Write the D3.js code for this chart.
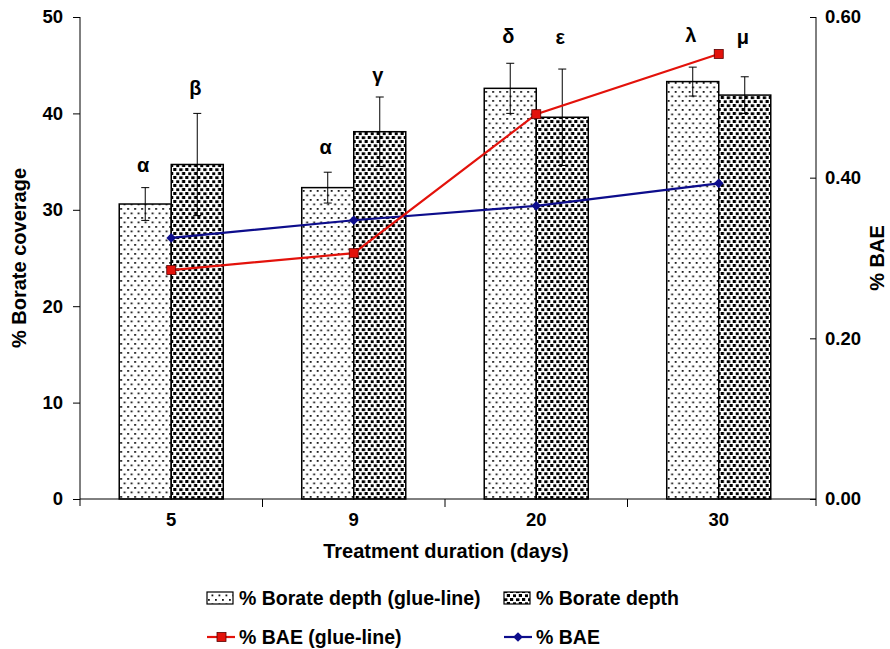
<!DOCTYPE html>
<html>
<head>
<meta charset="utf-8">
<script src="https://cdn.jsdelivr.net/npm/d3@7"></script>
<style>
  body { margin: 0; background: #fff; }
  svg { font-family: "Liberation Sans", Arial, sans-serif; font-weight: bold; }
</style>
</head>
<body>
<div class="chart"></div>
<script>
// data
const days = ["5", "9", "20", "30"];
const glueDepth = [30.6, 32.3, 42.6, 43.3];      // % Borate depth (glue-line)
const glueDepthErr = [1.7, 1.6, 2.6, 1.5];
const depth = [34.7, 38.1, 39.6, 41.9];          // % Borate depth
const depthErr = [5.3, 3.6, 5.0, 1.9];
const baeGlue = [0.285, 0.306, 0.479, 0.554];    // % BAE (glue-line)
const bae = [0.325, 0.347, 0.365, 0.393];        // % BAE
const glueLetters = ["α", "α", "δ", "λ"];
const depthLetters = ["β", "γ", "ε", "μ"];
const glueLetterAt = [34.6, 36.5, 48.0, 48.1];   // letter heights in % coverage units
const depthLetterAt = [42.6, 44.0, 47.9, 47.9];
const leftTicks = [0, 10, 20, 30, 40, 50];
const rightTicks = [0, 0.2, 0.4, 0.6];

const width = 890;
const height = 649;
const plotLeft = 80, plotRight = 816, plotTop = 17, plotBottom = 499;

const svg = d3.select(".chart").append("svg")
  .attr("width", width)
  .attr("height", height);

const defs = svg.append("defs");

// light dotted fill
const dots = defs.append("pattern")
  .attr("id", "dots")
  .attr("patternUnits", "userSpaceOnUse")
  .attr("width", 7).attr("height", 9);
dots.append("rect").attr("width", 7).attr("height", 9).attr("fill", "#fff");
dots.append("rect").attr("x", 1).attr("y", 1).attr("width", 1.8).attr("height", 1.8).attr("fill", "#111");
dots.append("rect").attr("x", 4.5).attr("y", 5.5).attr("width", 1.8).attr("height", 1.8).attr("fill", "#111");

// dense speckled fill
const dense = defs.append("pattern")
  .attr("id", "dense")
  .attr("patternUnits", "userSpaceOnUse")
  .attr("width", 12).attr("height", 8);
dense.append("rect").attr("width", 12).attr("height", 8).attr("fill", "#fff");
[[0, 0.3, 3.4, 2.8], [6, 0, 3.2, 3], [2.8, 4, 3.2, 3], [9, 4.3, 3.2, 2.8]].forEach((r) => {
  dense.append("rect").attr("x", r[0]).attr("y", r[1]).attr("width", r[2]).attr("height", r[3]).attr("fill", "#000");
});

const x = d3.scaleBand()
  .domain(days)
  .range([plotLeft, 810])
  .paddingInner(0.43)
  .paddingOuter(0.215);

const xSub = d3.scaleBand()
  .domain(["glue", "depth"])
  .range([0, x.bandwidth()]);

const y = d3.scaleLinear().domain([0, 50]).range([plotBottom, plotTop]);
const y2 = d3.scaleLinear().domain([0, 0.6]).range([plotBottom, plotTop]);

const groups = days.map((d, i) => ({
  day: d,
  bars: [
    { key: "glue", v: glueDepth[i], e: glueDepthErr[i], letter: glueLetters[i], at: glueLetterAt[i] },
    { key: "depth", v: depth[i], e: depthErr[i], letter: depthLetters[i], at: depthLetterAt[i] }
  ]
}));

const g = svg.selectAll(".group")
  .data(groups)
  .enter()
  .append("g")
  .attr("class", "group")
  .attr("transform", (d) => `translate(${x(d.day)},0)`);

g.selectAll("rect")
  .data((d) => d.bars)
  .enter()
  .append("rect")
  .attr("x", (d) => xSub(d.key))
  .attr("y", (d) => y(d.v))
  .attr("width", xSub.bandwidth())
  .attr("height", (d) => y(0) - y(d.v))
  .attr("fill", (d) => (d.key === "glue" ? "url(#dots)" : "url(#dense)"))
  .attr("stroke", "#000")
  .attr("stroke-width", 1.5);

// error bars
const err = g.selectAll(".err")
  .data((d) => d.bars)
  .enter()
  .append("g")
  .attr("class", "err")
  .attr("transform", (d) => `translate(${xSub(d.key) + xSub.bandwidth() / 2},0)`);
err.append("line")
  .attr("y1", (d) => y(d.v - d.e)).attr("y2", (d) => y(d.v + d.e))
  .attr("stroke", "#000").attr("stroke-width", 1);
err.append("line")
  .attr("x1", -4).attr("x2", 4)
  .attr("y1", (d) => y(d.v + d.e)).attr("y2", (d) => y(d.v + d.e))
  .attr("stroke", "#000").attr("stroke-width", 1);
err.append("line")
  .attr("x1", -4).attr("x2", 4)
  .attr("y1", (d) => y(d.v - d.e)).attr("y2", (d) => y(d.v - d.e))
  .attr("stroke", "#000").attr("stroke-width", 1);

// greek letters
g.selectAll(".letter")
  .data((d) => d.bars)
  .enter()
  .append("text")
  .attr("class", "letter")
  .attr("x", (d) => xSub(d.key) + xSub.bandwidth() / 2 - 2)
  .attr("y", (d) => y(d.at))
  .attr("dy", "0.35em")
  .attr("text-anchor", "middle")
  .attr("font-size", 20)
  .text((d) => d.letter);

// axes
const styleAxis = (sel) => {
  sel.select(".domain").remove();
  sel.selectAll(".tick line").attr("stroke", "#000");
  sel.selectAll(".tick text").attr("font-size", 18.5).attr("font-weight", "bold").attr("fill", "#000")
    .attr("font-family", "Liberation Sans, Arial, sans-serif");
};

svg.append("g")
  .attr("transform", `translate(${plotLeft},0)`)
  .call(d3.axisLeft(y).tickValues(leftTicks).tickSize(7).tickPadding(10))
  .call(styleAxis);

svg.append("g")
  .attr("transform", `translate(${plotRight},0)`)
  .call(d3.axisRight(y2).tickValues(rightTicks).tickSize(0).tickPadding(9).tickFormat(d3.format(".2f")))
  .call(styleAxis)
  .call((s) => s.selectAll(".tick").append("line").attr("x1", -6).attr("x2", 0).attr("stroke", "#000"));

svg.append("g")
  .attr("transform", `translate(0,${plotBottom})`)
  .call(d3.axisBottom(x).tickSize(0).tickPadding(14))
  .call(styleAxis);

// category separators on x axis
svg.append("g")
  .selectAll("line")
  .data(days.slice(1))
  .enter()
  .append("line")
  .attr("x1", (d) => x(d) - x.step() * x.paddingInner() / 2)
  .attr("x2", (d) => x(d) - x.step() * x.paddingInner() / 2)
  .attr("y1", plotBottom).attr("y2", plotBottom + 8)
  .attr("stroke", "#000");

svg.append("line").attr("x1", plotLeft).attr("x2", plotLeft).attr("y1", plotTop).attr("y2", plotBottom + 7).attr("stroke", "#000");
svg.append("line").attr("x1", plotRight).attr("x2", plotRight).attr("y1", plotTop).attr("y2", plotBottom + 7).attr("stroke", "#000");
svg.append("line").attr("x1", plotLeft).attr("x2", plotRight).attr("y1", plotBottom).attr("y2", plotBottom).attr("stroke", "#000");

// lines
const lineX = (d, i) => x(days[i]) + x.bandwidth() / 2;
const line = d3.line().x(lineX).y((d) => y2(d));

const red = "#e3120b";
const navy = "#0d0d8c";

svg.append("path").datum(bae).attr("d", line).attr("fill", "none").attr("stroke", navy).attr("stroke-width", 2.2);
svg.append("path").datum(baeGlue).attr("d", line).attr("fill", "none").attr("stroke", red).attr("stroke-width", 2.2);

const diamond = d3.symbol().type(d3.symbolDiamond2).size(60);

svg.selectAll(".bae")
  .data(bae)
  .enter()
  .append("path")
  .attr("d", diamond)
  .attr("transform", (d, i) => `translate(${lineX(d, i)},${y2(d)})`)
  .attr("fill", navy);

svg.selectAll(".baeGlue")
  .data(baeGlue)
  .enter()
  .append("rect")
  .attr("x", (d, i) => lineX(d, i) - 4.5)
  .attr("y", (d) => y2(d) - 4.5)
  .attr("width", 9).attr("height", 9)
  .attr("fill", red)
  .attr("stroke", "#5a0000").attr("stroke-width", 0.8);

// axis titles
svg.append("text")
  .attr("transform", `translate(26,${(plotTop + plotBottom) / 2}) rotate(-90)`)
  .attr("text-anchor", "middle")
  .attr("font-size", 20)
  .text("% Borate coverage");

svg.append("text")
  .attr("transform", `translate(884,${(plotTop + plotBottom) / 2}) rotate(-90)`)
  .attr("text-anchor", "middle")
  .attr("font-size", 20)
  .text("% BAE");

svg.append("text")
  .attr("x", (plotLeft + plotRight) / 2 - 2)
  .attr("y", 558)
  .attr("text-anchor", "middle")
  .attr("font-size", 20)
  .text("Treatment duration (days)");

// legend
const legend = svg.append("g").attr("font-size", 19.5);
const legendItems = [
  { label: "% Borate depth (glue-line)", kind: "bar", fill: "url(#dots)", x: 207, y: 598 },
  { label: "% Borate depth", kind: "bar", fill: "url(#dense)", x: 504, y: 598 },
  { label: "% BAE (glue-line)", kind: "square", color: red, x: 207, y: 637 },
  { label: "% BAE", kind: "diamond", color: navy, x: 504, y: 637 }
];

legendItems.forEach((d) => {
  const item = legend.append("g").attr("transform", `translate(${d.x},${d.y})`);
  if (d.kind === "bar") {
    item.append("rect").attr("x", 0).attr("y", -6).attr("width", 26).attr("height", 12)
      .attr("fill", d.fill).attr("stroke", "#000").attr("stroke-width", 1.2);
  } else {
    item.append("line").attr("x1", 0).attr("x2", 28).attr("stroke", d.color).attr("stroke-width", 2.2);
    if (d.kind === "square") {
      item.append("rect").attr("x", 10).attr("y", -4.5).attr("width", 9).attr("height", 9)
        .attr("fill", d.color).attr("stroke", "#5a0000").attr("stroke-width", 0.8);
    } else {
      item.append("path").attr("d", diamond).attr("transform", "translate(14,0)").attr("fill", d.color);
    }
  }
  item.append("text").attr("x", 32).attr("dy", "0.35em").text(d.label);
});
</script>
</body>
</html>
